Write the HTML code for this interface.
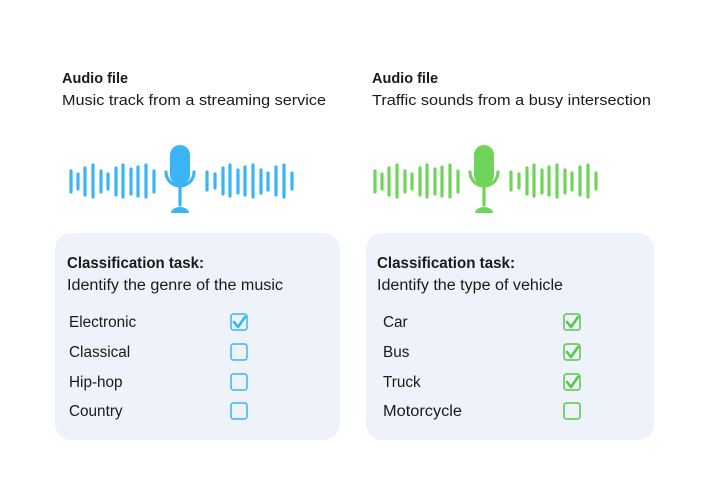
<!DOCTYPE html>
<html><head><meta charset="utf-8"><style>
html,body{margin:0;padding:0;background:#fff;width:715px;height:496px;overflow:hidden}
svg text{font-family:"Liberation Sans",sans-serif;font-size:14.5px;fill:#1a1a1a}
.b{font-weight:bold}
.c{font-size:15.3px}
</style></head><body>
<svg width="715" height="496" xmlns="http://www.w3.org/2000/svg">
<rect x="55" y="233" width="285" height="207" rx="16" fill="#eef3fb"/>
<rect x="366" y="233" width="288" height="207" rx="16" fill="#eef3fb"/>

<text x="62" y="83" class="b">Audio file</text>
<text x="62" y="105" textLength="264" lengthAdjust="spacingAndGlyphs">Music track from a streaming service</text>
<text x="372" y="83" class="b">Audio file</text>
<text x="372" y="105" textLength="279" lengthAdjust="spacingAndGlyphs">Traffic sounds from a busy intersection</text>

<g stroke="#3bb4f5" stroke-width="3.2" stroke-linecap="round" fill="none">
<line x1="71" y1="171" x2="71" y2="192"/><line x1="78" y1="174" x2="78" y2="189"/>
<line x1="85" y1="168" x2="85" y2="195"/><line x1="93" y1="165" x2="93" y2="197"/>
<line x1="101" y1="171" x2="101" y2="192"/><line x1="108" y1="174" x2="108" y2="189"/>
<line x1="116" y1="168" x2="116" y2="195"/><line x1="123" y1="165" x2="123" y2="197"/>
<line x1="131" y1="169" x2="131" y2="194"/><line x1="138" y1="167" x2="138" y2="196"/>
<line x1="146" y1="165" x2="146" y2="197"/><line x1="154" y1="171" x2="154" y2="192"/>
<line x1="207" y1="172" x2="207" y2="190"/><line x1="215" y1="174" x2="215" y2="188"/>
<line x1="223" y1="168" x2="223" y2="194"/><line x1="230" y1="165" x2="230" y2="196"/>
<line x1="238" y1="170" x2="238" y2="193"/><line x1="245" y1="167" x2="245" y2="195"/>
<line x1="253" y1="165" x2="253" y2="197"/><line x1="261" y1="170" x2="261" y2="193"/>
<line x1="268" y1="173" x2="268" y2="190"/><line x1="276" y1="167" x2="276" y2="195"/>
<line x1="284" y1="165" x2="284" y2="197"/><line x1="292" y1="173" x2="292" y2="189"/>
<path d="M166 172 A14 14 0 0 0 194 172"/><line x1="180" y1="187" x2="180" y2="205"/>
</g>
<rect x="170" y="145" width="20" height="40" rx="10" fill="#3bb4f5"/>
<path d="M171 213 A9 6 0 0 1 189 213 Z" fill="#3bb4f5"/>

<g stroke="#6fd45a" stroke-width="3.2" stroke-linecap="round" fill="none" transform="translate(304,0)">
<line x1="71" y1="171" x2="71" y2="192"/><line x1="78" y1="174" x2="78" y2="189"/>
<line x1="85" y1="168" x2="85" y2="195"/><line x1="93" y1="165" x2="93" y2="197"/>
<line x1="101" y1="171" x2="101" y2="192"/><line x1="108" y1="174" x2="108" y2="189"/>
<line x1="116" y1="168" x2="116" y2="195"/><line x1="123" y1="165" x2="123" y2="197"/>
<line x1="131" y1="169" x2="131" y2="194"/><line x1="138" y1="167" x2="138" y2="196"/>
<line x1="146" y1="165" x2="146" y2="197"/><line x1="154" y1="171" x2="154" y2="192"/>
<line x1="207" y1="172" x2="207" y2="190"/><line x1="215" y1="174" x2="215" y2="188"/>
<line x1="223" y1="168" x2="223" y2="194"/><line x1="230" y1="165" x2="230" y2="196"/>
<line x1="238" y1="170" x2="238" y2="193"/><line x1="245" y1="167" x2="245" y2="195"/>
<line x1="253" y1="165" x2="253" y2="197"/><line x1="261" y1="170" x2="261" y2="193"/>
<line x1="268" y1="173" x2="268" y2="190"/><line x1="276" y1="167" x2="276" y2="195"/>
<line x1="284" y1="165" x2="284" y2="197"/><line x1="292" y1="173" x2="292" y2="189"/>
<path d="M166 172 A14 14 0 0 0 194 172"/><line x1="180" y1="187" x2="180" y2="205"/>
</g>
<rect x="474" y="145" width="20" height="40" rx="10" fill="#6fd45a"/>
<path d="M475 213 A9 6 0 0 1 493 213 Z" fill="#6fd45a"/>

<text x="67" y="268" class="b c" textLength="137" lengthAdjust="spacingAndGlyphs">Classification task:</text>
<text x="67" y="290" class="c" textLength="216" lengthAdjust="spacingAndGlyphs">Identify the genre of the music</text>
<text x="69" y="327" class="c">Electronic</text>
<text x="69" y="357" class="c">Classical</text>
<text x="69" y="387" class="c">Hip-hop</text>
<text x="69" y="416" class="c">Country</text>
<g fill="none" stroke="#3bb4f5" stroke-width="1.5">
<rect x="231" y="314" width="16" height="16" rx="2.5"/>
<rect x="231" y="344" width="16" height="16" rx="2.5"/>
<rect x="231" y="374" width="16" height="16" rx="2.5"/>
<rect x="231" y="403" width="16" height="16" rx="2.5"/>
<path d="M234 322 L238 327 L245 317" stroke-width="2.6" stroke-linecap="round" stroke-linejoin="round"/>
</g>

<text x="377" y="268" class="b c" textLength="138" lengthAdjust="spacingAndGlyphs">Classification task:</text>
<text x="377" y="290" class="c" textLength="186" lengthAdjust="spacingAndGlyphs">Identify the type of vehicle</text>
<text x="383" y="327" class="c">Car</text>
<text x="383" y="357" class="c">Bus</text>
<text x="383" y="387" class="c">Truck</text>
<text x="383" y="416" class="c" textLength="79" lengthAdjust="spacingAndGlyphs">Motorcycle</text>
<g fill="none" stroke="#5cc44a" stroke-width="1.5">
<rect x="564" y="314" width="16" height="16" rx="2.5"/>
<rect x="564" y="344" width="16" height="16" rx="2.5"/>
<rect x="564" y="374" width="16" height="16" rx="2.5"/>
<rect x="564" y="403" width="16" height="16" rx="2.5"/>
<g stroke-width="2.6" stroke-linecap="round" stroke-linejoin="round">
<path d="M567 322 L571 327 L578 317"/>
<path d="M567 352 L571 357 L578 347"/>
<path d="M567 382 L571 387 L578 377"/>
</g>
</g>
</svg>
</body></html>
